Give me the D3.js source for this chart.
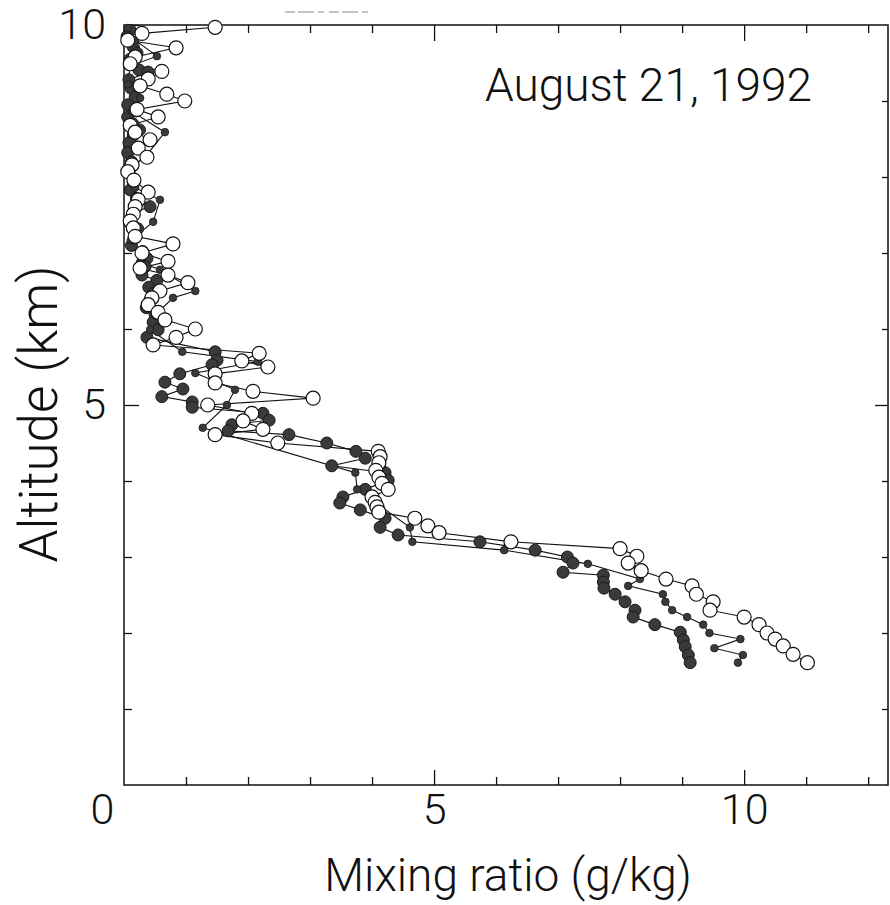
<!DOCTYPE html>
<html><head><meta charset="utf-8">
<script src="https://cdn.jsdelivr.net/npm/d3@7"></script>
<style>
body{margin:0;background:#fff}
svg text{font-family:Roboto,"Open Sans",sans-serif;font-weight:300;fill:#111}
</style>
</head><body>
<svg id="chart" width="890" height="905"></svg>
<script>
// ---- data ----
const openMix = [1.47,0.29,0.06,0.84,0.18,0.10,0.61,0.39,0.26,0.69,0.98,0.21,0.55,0.10,0.18,0.42,0.23,0.37,0.13,0.06,0.16,0.39,0.23,0.18,0.15,0.10,0.15,0.18,0.79,0.29,0.71,0.26,0.71,1.03,0.58,0.45,0.39,0.55,0.66,1.15,0.84,0.47,2.18,1.90,2.32,1.47,1.47,2.08,3.05,1.35,2.06,1.92,2.24,1.47,2.48,4.10,4.13,4.11,4.06,4.11,4.16,4.26,4.00,4.05,4.08,4.11,4.69,4.90,5.08,6.24,8.00,8.27,8.13,8.34,8.74,9.16,9.23,9.50,9.45,10.00,10.24,10.37,10.50,10.63,10.79,11.02];
const openAlt = [9.97,9.89,9.80,9.70,9.58,9.49,9.39,9.29,9.20,9.09,9.00,8.89,8.79,8.68,8.59,8.49,8.38,8.26,8.16,8.07,7.96,7.80,7.70,7.61,7.51,7.42,7.33,7.22,7.12,7.00,6.89,6.80,6.71,6.61,6.50,6.41,6.32,6.22,6.12,6.00,5.89,5.79,5.68,5.58,5.50,5.41,5.29,5.18,5.09,5.00,4.89,4.79,4.68,4.61,4.50,4.39,4.32,4.24,4.14,4.05,3.97,3.89,3.79,3.72,3.66,3.59,3.51,3.41,3.32,3.20,3.11,3.01,2.92,2.82,2.71,2.62,2.51,2.41,2.30,2.21,2.11,2.00,1.92,1.83,1.72,1.61];

const largeMix = [0.10,0.05,0.15,0.21,0.10,0.24,0.39,0.08,0.11,0.18,0.06,0.20,0.06,0.14,0.25,0.15,0.08,0.06,0.12,0.08,0.15,0.10,0.20,0.42,0.15,0.10,0.22,0.18,0.12,0.30,0.37,0.34,0.29,0.53,0.40,0.48,0.42,0.36,0.50,0.47,0.55,0.37,1.47,1.50,1.42,0.90,0.66,0.95,0.61,1.10,1.10,2.24,2.34,1.74,1.68,2.66,3.27,3.74,3.89,3.35,4.21,4.26,3.89,3.53,3.48,3.81,4.21,4.13,4.42,5.74,6.63,7.15,7.24,7.08,7.73,7.73,7.74,7.92,8.08,8.24,8.21,8.56,8.97,9.02,9.05,9.10,9.13];
const largeAlt = [9.93,9.85,9.71,9.63,9.55,9.41,9.38,9.28,9.17,9.05,8.95,8.87,8.79,8.70,8.62,8.55,8.45,8.32,8.20,8.05,7.93,7.83,7.72,7.61,7.53,7.40,7.32,7.21,7.10,7.02,6.93,6.82,6.71,6.64,6.55,6.47,6.38,6.28,6.20,6.09,5.99,5.89,5.70,5.59,5.53,5.41,5.30,5.21,5.11,5.04,4.97,4.89,4.80,4.74,4.66,4.61,4.50,4.39,4.30,4.20,4.11,4.01,3.89,3.79,3.71,3.62,3.51,3.39,3.29,3.20,3.09,3.00,2.92,2.80,2.76,2.67,2.59,2.51,2.41,2.30,2.21,2.11,2.01,1.91,1.82,1.71,1.61];

const smallMix = [0.06,0.18,0.53,0.10,0.06,0.26,0.13,0.66,0.37,0.10,0.18,0.58,0.47,0.11,0.26,0.58,1.15,0.79,0.50,0.42,0.94,2.16,1.15,1.79,1.66,1.27,3.73,3.76,4.61,4.65,6.13,7.48,8.32,8.13,8.69,8.73,8.84,9.08,9.34,9.44,9.94,9.52,9.98,9.90];
const smallAlt = [9.96,9.80,9.59,9.46,9.22,9.04,8.86,8.59,8.29,8.12,7.86,7.70,7.41,7.17,6.88,6.78,6.50,6.41,6.18,5.99,5.70,5.57,5.42,5.20,5.00,4.70,4.11,3.89,3.39,3.20,3.09,2.91,2.71,2.62,2.51,2.41,2.30,2.21,2.11,2.00,1.92,1.80,1.71,1.61];

const xTickValues = [0,1,2,3,4,5,6,7,8,9,10,11,12];
const xMajorTicks = [0,5,10];
const yTickValues = [0,1,2,3,4,5,6,7,8,9,10];
const yMajorTicks = [5,10];
const xTitle = "Mixing ratio (g/kg)";
const yTitle = "Altitude (km)";
const dateLabel = "August 21, 1992";

// ---- layout ----
const svg = d3.select("#chart");
const pL = 124, pR = 888, pT = 25, pB = 785;
const x = d3.scaleLinear().domain([0, 12.32]).range([pL, pR]);
const y = d3.scaleLinear().domain([0, 10]).range([pB, pT]);

const zip = (a, b) => a.map((v, i) => [v, b[i]]);
const openData = zip(openMix, openAlt);
const largeData = zip(largeMix, largeAlt);
const smallData = zip(smallMix, smallAlt);

// faint scan artifact at top
svg.append("line").attr("x1", 285).attr("x2", 368).attr("y1", 12).attr("y2", 12)
  .attr("stroke", "#888").attr("stroke-width", 1).attr("stroke-dasharray", "10,3,16,4,6,5");

// frame
svg.append("rect").attr("x", pL).attr("y", pT).attr("width", pR - pL).attr("height", pB - pT)
  .attr("fill", "none").attr("stroke", "#111").attr("stroke-width", 1.5);

function styleAxis(g) {
  g.select(".domain").remove();
  g.selectAll(".tick line").attr("stroke", "#111").attr("stroke-width", 1.3);
  g.selectAll("text").style("font-size", "43px");
}
const minorX = xTickValues.filter(v => !xMajorTicks.includes(v));
const minorY = yTickValues.filter(v => !yMajorTicks.includes(v) && v !== 0);

// bottom axis
svg.append("g").attr("transform", `translate(0,${pB})`)
  .call(d3.axisBottom(x).tickValues(minorX).tickSize(-8).tickFormat("")).call(styleAxis);
const bx = svg.append("g").attr("transform", `translate(0,${pB})`)
  .call(d3.axisBottom(x).tickValues(xMajorTicks).tickSize(-15).tickPadding(8).tickFormat(d3.format("d"))).call(styleAxis);
bx.selectAll(".tick").filter(d => d === 0).select("line").remove();
bx.selectAll(".tick").filter(d => d === 0).select("text").attr("x", -22);

// top axis
svg.append("g").attr("transform", `translate(0,${pT})`)
  .call(d3.axisTop(x).tickValues(minorX).tickSize(-8).tickFormat("")).call(styleAxis);
svg.append("g").attr("transform", `translate(0,${pT})`)
  .call(d3.axisTop(x).tickValues(xMajorTicks.filter(v => v > 0)).tickSize(-16).tickFormat("")).call(styleAxis);

// left axis
svg.append("g").attr("transform", `translate(${pL},0)`)
  .call(d3.axisLeft(y).tickValues(minorY).tickSize(-8).tickFormat("")).call(styleAxis);
svg.append("g").attr("transform", `translate(${pL},0)`)
  .call(d3.axisLeft(y).tickValues(yMajorTicks).tickSize(-15).tickPadding(18).tickFormat(d3.format("d"))).call(styleAxis);

// right axis
svg.append("g").attr("transform", `translate(${pR},0)`)
  .call(d3.axisRight(y).tickValues(minorY).tickSize(-6).tickFormat("")).call(styleAxis);
svg.append("g").attr("transform", `translate(${pR},0)`)
  .call(d3.axisRight(y).tickValues([5]).tickSize(-13).tickFormat("")).call(styleAxis);

// titles
svg.append("text").attr("x", 508).attr("y", 891).attr("text-anchor", "middle")
  .style("font-size", "46px").text(xTitle);
svg.append("text").attr("transform", `translate(57,414) rotate(-90)`).attr("text-anchor", "middle")
  .style("font-size", "53px").text(yTitle);
svg.append("text").attr("x", 812).attr("y", 101).attr("text-anchor", "end")
  .style("font-size", "46px").text(dateLabel);

// lines
const line = d3.line().x(d => x(d[0])).y(d => y(d[1]));
[openData, largeData, smallData].forEach(data => {
  svg.append("path").datum(data).attr("d", line)
    .attr("fill", "none").attr("stroke", "#111").attr("stroke-width", 1.1);
});

// markers
svg.append("g").selectAll("circle").data(largeData).join("circle")
  .attr("cx", d => x(d[0])).attr("cy", d => y(d[1])).attr("r", 6)
  .attr("fill", "#3a3a3a").attr("stroke", "#1a1a1a").attr("stroke-width", 1);
svg.append("g").selectAll("circle").data(smallData).join("circle")
  .attr("cx", d => x(d[0])).attr("cy", d => y(d[1])).attr("r", 3.8)
  .attr("fill", "#3a3a3a").attr("stroke", "#1a1a1a").attr("stroke-width", 0.8);
svg.append("g").selectAll("circle").data(openData).join("circle")
  .attr("cx", d => x(d[0])).attr("cy", d => y(d[1])).attr("r", 7)
  .attr("fill", "#fff").attr("stroke", "#111").attr("stroke-width", 1.2);
</script>
</body></html>
